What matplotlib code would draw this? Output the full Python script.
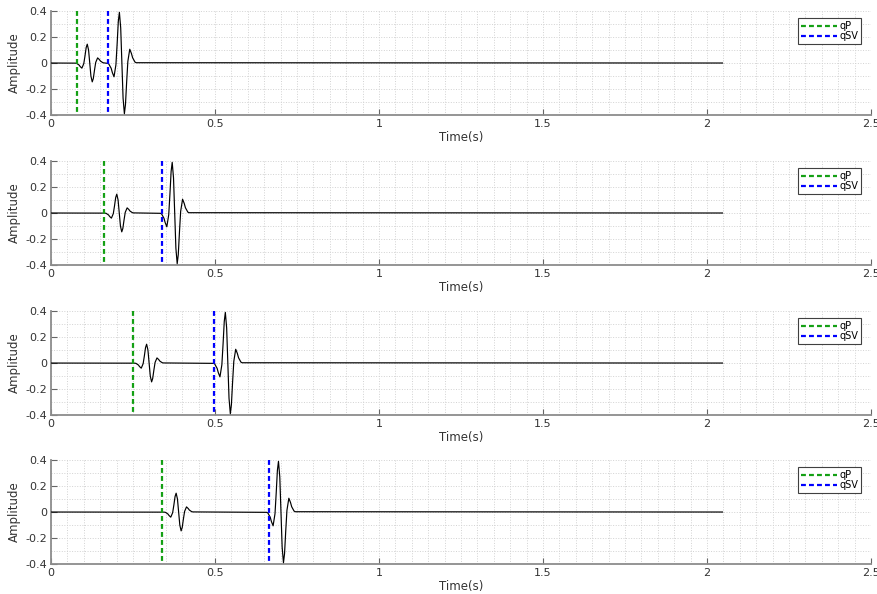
import matplotlib
matplotlib.use('Agg')
import numpy as np
from matplotlib import pyplot as plt
from matplotlib.ticker import MultipleLocator, FormatStrFormatter

# wavelet: offset from its centre (ms) and normalised amplitude
wavelet_offsets_ms = [-43.6, -40.0, -32.7, -29.1, -24.0, -18.2, -14.5, -10.9, -7.6, -3.6, 0.0,
                      3.6, 7.6, 10.9, 14.5, 18.2, 24.0, 29.1, 32.7, 40.0, 43.6]
wavelet_shape = [-0.006, -0.018, -0.104, -0.188, -0.272, -0.034, 0.377, 0.821, 1.0, 0.692, 0.0,
                 -0.692, -1.0, -0.821, -0.377, 0.034, 0.272, 0.188, 0.104, 0.018, 0.006]

qp_peak = 0.145
qsv_peak = 0.39
qp_centres = [0.118, 0.208, 0.299, 0.389]
qsv_centres = [0.216, 0.377, 0.539, 0.701]
qp_picks = [0.078, 0.160, 0.250, 0.339]
qsv_picks = [0.175, 0.338, 0.498, 0.664]
trace_start = 0.0
trace_end = 2.047

x_ticks = [0, 0.5, 1, 1.5, 2, 2.5]
y_ticks = [-0.4, -0.2, 0, 0.2, 0.4]

plt.rcParams['axes.unicode_minus'] = False
plt.rcParams['font.family'] = ['DejaVu Sans']

fig = plt.figure(figsize=(8.77, 5.94), dpi=100)
bottoms = [0.8064, 0.5539, 0.3013, 0.0505]

offsets = np.array(wavelet_offsets_ms) / 1000.0
shape = np.array(wavelet_shape)

for i, bottom in enumerate(bottoms):
    ax = fig.add_axes([0.0582, bottom, 0.935, 0.175])

    t = np.concatenate([[trace_start], qp_centres[i] + offsets, qsv_centres[i] + offsets, [trace_end]])
    a = np.concatenate([[0.0], qp_peak * shape, qsv_peak * shape, [0.0]])
    ax.plot(t, a, color='black', lw=0.85, zorder=3)

    # drawn from the top down so the dash pattern starts at the top edge
    ax.axvline(qp_picks[i], ymin=1, ymax=0, color='#14a014', ls=(0, (2.2, 1.4)), lw=1.6,
               label='qP', zorder=4)
    ax.axvline(qsv_picks[i], ymin=1, ymax=0, color='#0000ff', ls=(0, (2.2, 1.4)), lw=1.6,
               label='qSV', zorder=4)

    ax.set_xlim(0, 2.5)
    ax.set_ylim(-0.4, 0.4)
    ax.set_xticks(x_ticks)
    ax.set_yticks(y_ticks)
    ax.xaxis.set_major_formatter(FormatStrFormatter('%g'))
    ax.yaxis.set_major_formatter(FormatStrFormatter('%g'))
    ax.xaxis.set_minor_locator(MultipleLocator(0.05))
    ax.yaxis.set_minor_locator(MultipleLocator(0.1))
    ax.grid(which='both', ls=':', color='#d2d2d2', lw=0.7)
    ax.tick_params(which='major', direction='in', length=4, width=0.8, color='#666666',
                   labelsize=8, labelcolor='#333333', pad=3)
    ax.tick_params(which='minor', length=0)

    for side in ['top', 'right']:
        ax.spines[side].set_visible(False)
    for side in ['left', 'bottom']:
        ax.spines[side].set_color('#8c8c8c')
        ax.spines[side].set_linewidth(1.3)

    ax.set_xlabel('Time(s)', fontsize=8.5, color='#333333', labelpad=1)
    ax.set_ylabel('Amplitude', fontsize=8.5, color='#333333', labelpad=3)

    leg = ax.legend(loc='upper right', bbox_to_anchor=(0.988, 0.933), borderaxespad=0,
                    fontsize=7, handlelength=3.8, handletextpad=0.2, borderpad=0.3,
                    labelspacing=0.05, fancybox=False, framealpha=1)
    leg.get_frame().set_edgecolor('#404040')
    leg.get_frame().set_linewidth(0.8)

fig.savefig('out.png', dpi=100)
